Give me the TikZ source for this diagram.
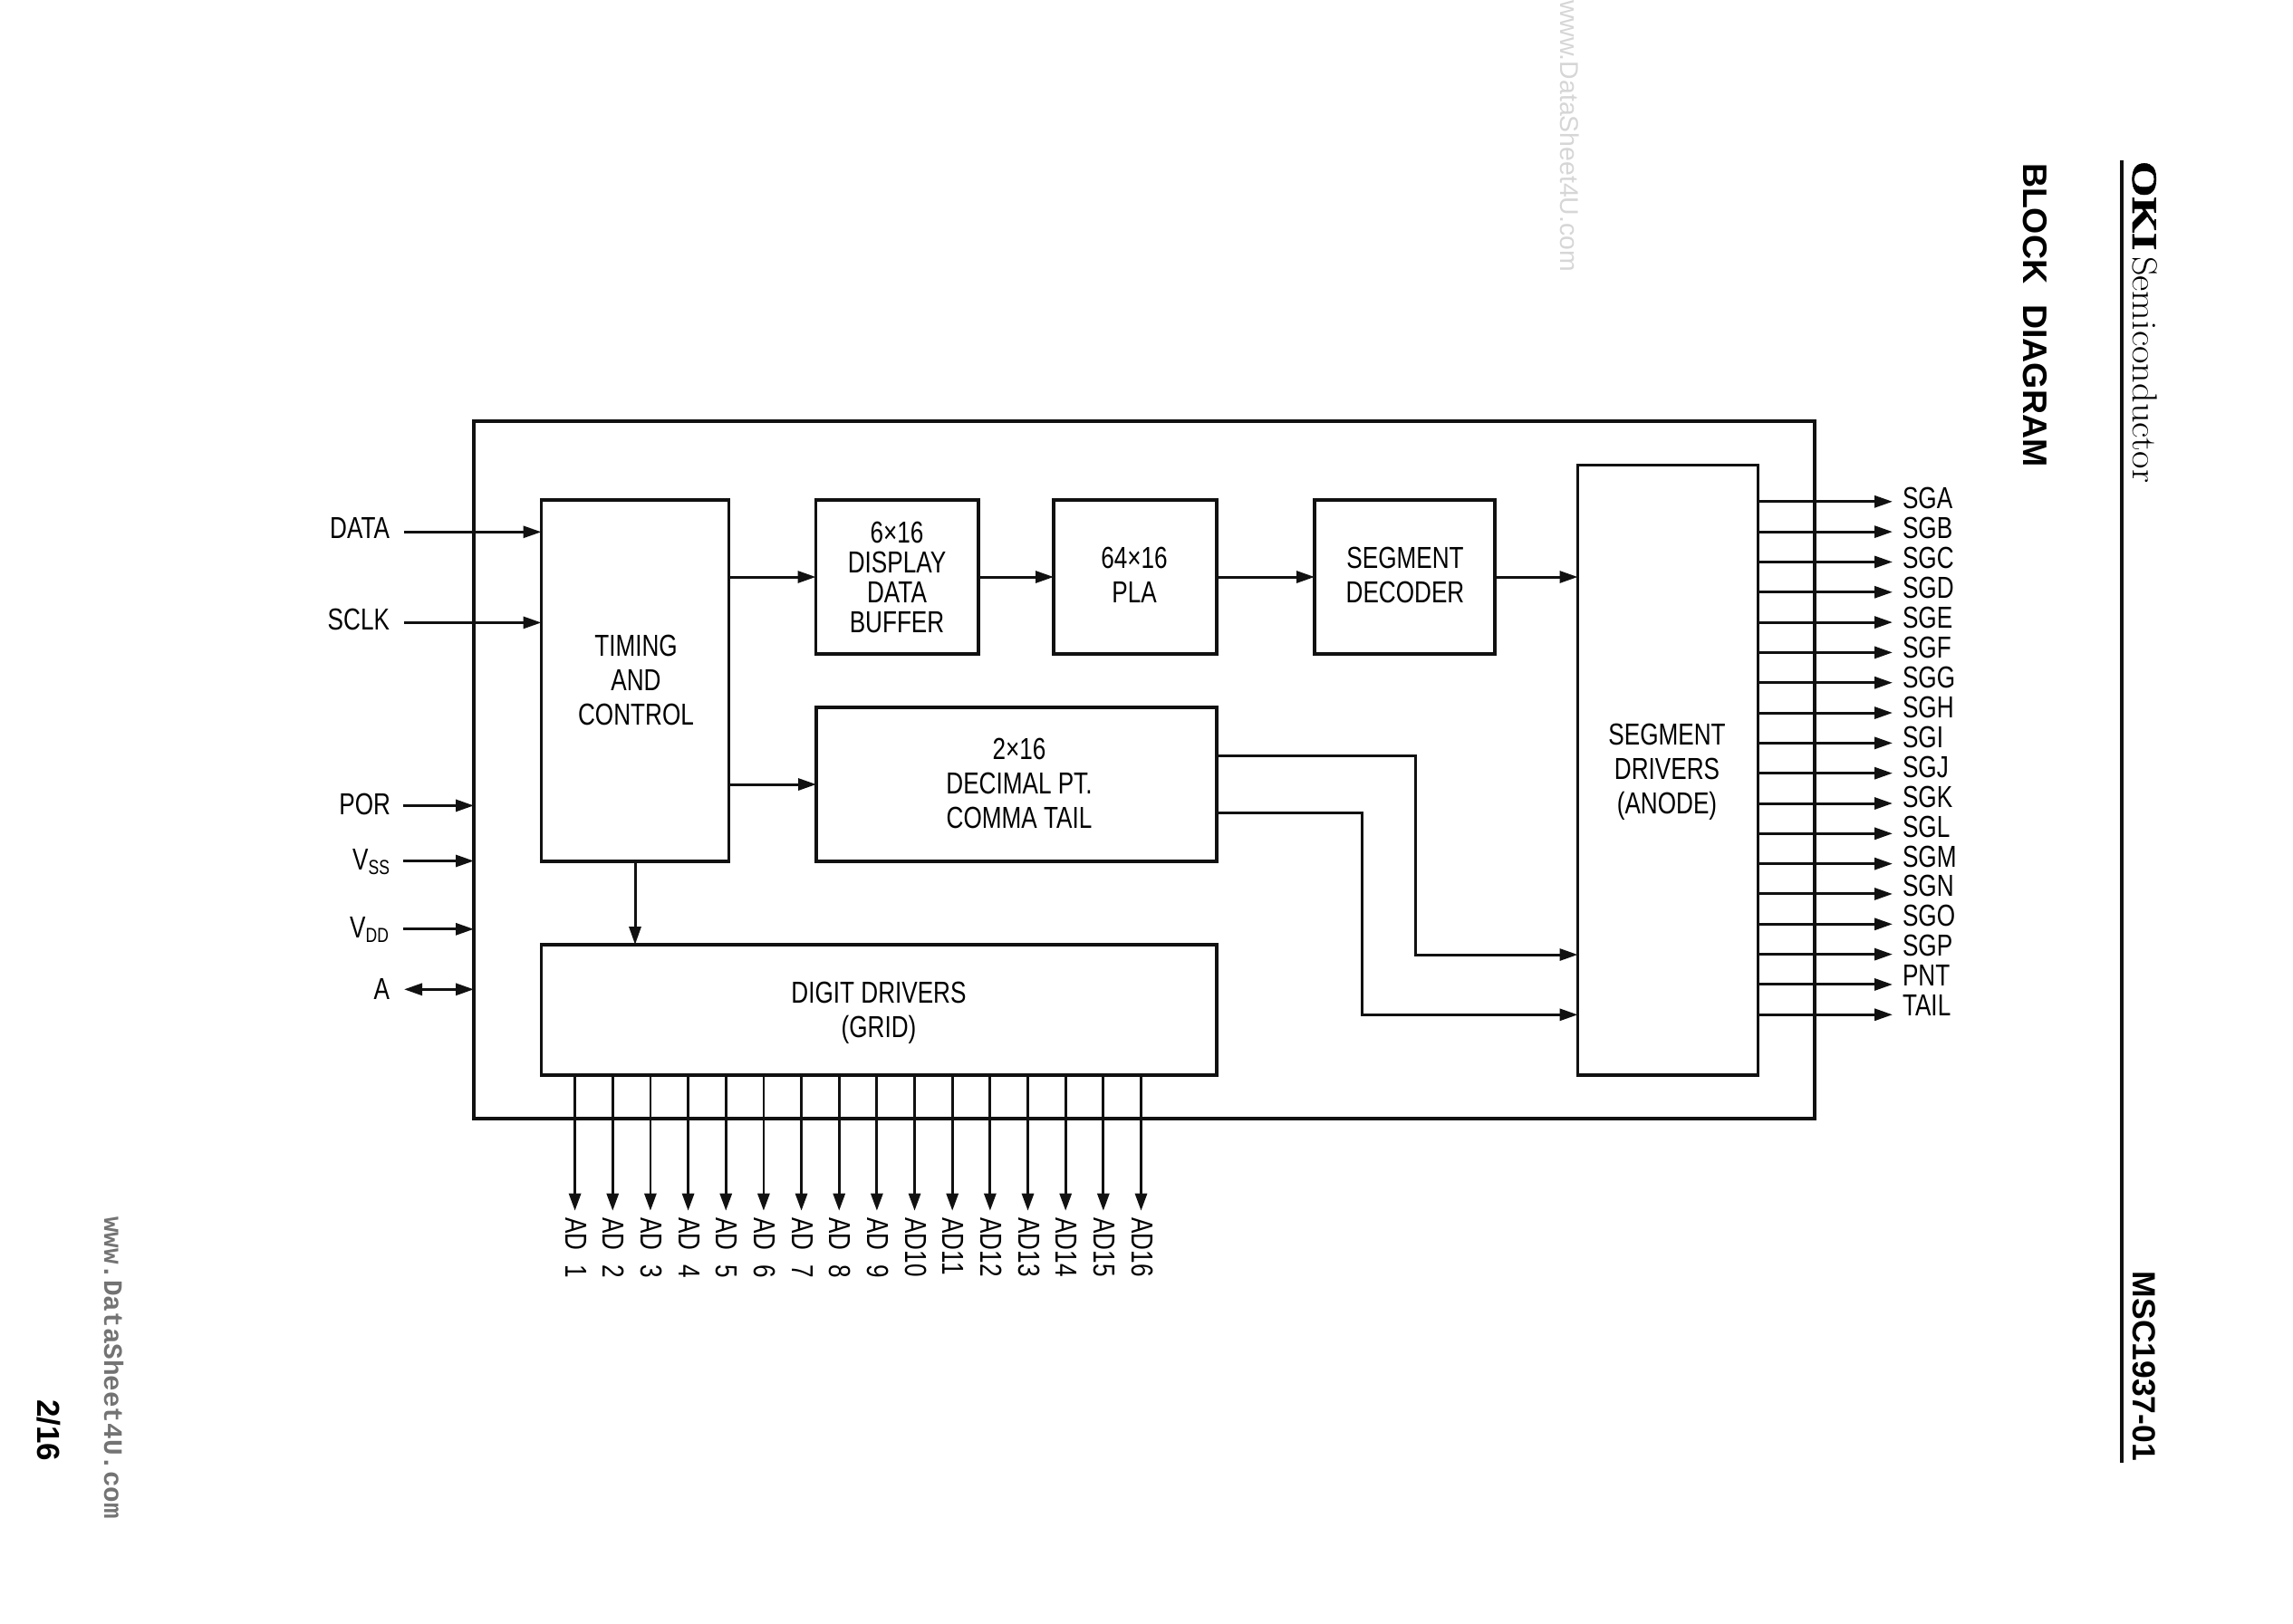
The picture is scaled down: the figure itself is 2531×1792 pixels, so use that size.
\documentclass[tikz,border=0pt]{standalone}
\usepackage{fontspec}
\usetikzlibrary{arrows.meta}
\newfontfamily\labfont[FakeStretch=0.78]{Liberation Sans}
\newfontfamily\headfont{Liberation Sans}
\newfontfamily\oki[FakeStretch=1.3,FakeBold=1.5]{Liberation Serif}
\newfontfamily\wmono{Liberation Mono}
\definecolor{ink}{HTML}{111111}
\tikzset{
  box/.style={draw=ink,line width=3.2pt,inner sep=0pt,outer sep=0pt,rectangle},
  txt/.style={inner sep=0pt,outer sep=0pt,align=center,text=black,font=\labfont\fontsize{33.5}{38}\selectfont},
  pinlab/.style={inner sep=0pt,outer sep=0pt,text=black,font=\labfont\fontsize{33.5}{38}\selectfont},
  adlab/.style={pinlab,rotate=-90,anchor=base west},
  wire/.style={draw=ink,line width=3pt},
  arr/.style={wire,-{Triangle[length=20pt,width=13pt]}},
  arrb/.style={wire,{Triangle[length=20pt,width=13pt]}-{Triangle[length=20pt,width=13pt]}},
  vert/.style={rotate=-90,inner sep=0pt,outer sep=0pt},
}
\newcommand{\subs}[1]{\raisebox{-5.5pt}{\fontsize{22.5}{24}\selectfont #1}}
\newcommand{\wide}[2]{\setlength{\spaceskip}{#1}#2}
\begin{document}
\begin{tikzpicture}[x=1pt,y=-1pt]
\useasboundingbox (0,0) rectangle (2531,1792);
\fill[white] (0,0) rectangle (2531,1792);

% blocks
\node[box,minimum width=1480pt,minimum height=770pt] (chip) at (1263,850) {};
\node[box,minimum width=207pt,minimum height=399pt] (timing) at (701,751.5) {};
\node[box,minimum width=179.5pt,minimum height=170pt] (buffer) at (990.25,637) {};
\node[box,minimum width=180pt,minimum height=170pt] (pla) at (1253,637) {};
\node[box,minimum width=199pt,minimum height=170pt] (decoder) at (1550.5,637) {};
\node[box,minimum width=442pt,minimum height=170pt] (decimal) at (1122,866) {};
\node[box,minimum width=745.5pt,minimum height=144pt] (digit) at (970.25,1115) {};
\node[box,minimum width=199pt,minimum height=673.5pt] (segdrv) at (1841,850.25) {};

% block texts
\node[txt] (ttiming) at (702,750.5) {TIMING\\AND\\CONTROL};
\node[txt,font=\labfont\fontsize{33.5}{33}\selectfont] (tbuffer) at (990,637) {6×16\\DISPLAY\\DATA\\BUFFER};
\node[txt] (tpla) at (1252,634.5) {64×16\\PLA};
\node[txt] (tdecoder) at (1551,634.5) {SEGMENT\\DECODER};
\node[txt] (tdecimal) at (1125,864.5) {2×16\\DECIMAL PT.\\COMMA TAIL};
\node[txt] (tdigit) at (970,1118) {DIGIT DRIVERS\\(GRID)};
\node[txt] (tsegdrv) at (1840,852.5) {SEGMENT\\DRIVERS\\(ANODE)};

% left pins
\node[pinlab,anchor=base east] (ldata) at (430,594) {DATA};
\node[pinlab,anchor=base east] (lsclk) at (430,695) {SCLK};
\node[pinlab,anchor=base east] (lpor) at (431,899) {POR};
\node[pinlab,anchor=base east] (lvss) at (430,960) {V\subs{SS}};
\node[pinlab,anchor=base east] (lvdd) at (429,1035) {V\subs{DD}};
\node[pinlab,anchor=base east] (la) at (430,1103) {A};

\coordinate (dataIn) at (446,587.3);
\coordinate (sclkIn) at (446,687.4);
\coordinate (porIn) at (445,889.4);
\coordinate (vssIn) at (445,950.5);
\coordinate (vddIn) at (445,1025.8);
\coordinate (aIn) at (446,1092.3);

\draw[arr] (dataIn) -- (timing.west |- dataIn);
\draw[arr] (sclkIn) -- (timing.west |- sclkIn);
\draw[arr] (porIn) -- (chip.west |- porIn);
\draw[arr] (vssIn) -- (chip.west |- vssIn);
\draw[arr] (vddIn) -- (chip.west |- vddIn);
\draw[arrb] (aIn) -- (chip.west |- aIn);

% internal connectors
\draw[arr] (timing.east |- buffer.west) -- (buffer.west);
\draw[arr] (buffer.east) -- (pla.west);
\draw[arr] (pla.east) -- (decoder.west);
\draw[arr] (decoder.east) -- (segdrv.west |- decoder.east);
\draw[arr] (timing.east |- decimal.west) -- (decimal.west);
\draw[arr] (timing.south) -- (timing.south |- digit.north);

\coordinate (pt1) at (1562.6,834.6);
\coordinate (pt1b) at (1562.6,1054);
\coordinate (pt2) at (1503,897.5);
\coordinate (pt2b) at (1503,1120.3);
\draw[arr] (decimal.east |- pt1) -- (pt1) -- (pt1b) -- (segdrv.west |- pt1b);
\draw[arr] (decimal.east |- pt2) -- (pt2) -- (pt2b) -- (segdrv.west |- pt2b);

% segment outputs
\foreach \n [count=\i from 0, evaluate=\i as \yy using 553.8+33.32*\i, evaluate=\i as \yl using 561.6+32.95*\i] in {SGA,SGB,SGC,SGD,SGE,SGF,SGG,SGH,SGI,SGJ,SGK,SGL,SGM,SGN,SGO,SGP,PNT,TAIL}{
  \coordinate (sgtip\i) at (2089,\yy);
  \node[pinlab,anchor=base west] (sg\i) at (2100,\yl) {\n};
  \draw[arr] (segdrv.east |- sgtip\i) -- (sgtip\i);
}

% digit outputs
\foreach \n [count=\i from 0, evaluate=\i as \xx using 634.6+41.66*\i] in {AD 1,AD 2,AD 3,AD 4,AD 5,AD 6,AD 7,AD 8,AD 9,AD10,AD11,AD12,AD13,AD14,AD15,AD16}{
  \coordinate (adtip\i) at (\xx,1336.7);
  \node[adlab] (ad\i) at (\xx-10.5,1344.5) {\wide{16pt}{\n}};
  \draw[wire,line width=2.8pt,-{Triangle[length=19pt,width=13pt]}] (digit.south -| adtip\i) -- (adtip\i);
}

% page furniture
\coordinate (ruleTop) at (2342,177);
\coordinate (ruleEnd) at (2342,1615);
\draw[ink,line width=3.3pt] (ruleTop) -- (ruleEnd);
\node[vert,anchor=base west,font=\oki\bfseries\fontsize{39}{40}\selectfont] (okilogo) at (2354,178) {OKI};
\node[vert,anchor=base west,font=\fontsize{38.5}{40}\selectfont] (semi) at (2354,283) {\scalebox{1.1}[1]{Semiconductor}};
\node[vert,anchor=base west,font=\headfont\bfseries\fontsize{37.5}{40}\selectfont] (title) at (2233,180) {\wide{23pt}{BLOCK DIAGRAM}};
\node[vert,anchor=base east,font=\headfont\bfseries\fontsize{35.5}{40}\selectfont] (part) at (2354,1613) {MSC1937-01};
\node[vert,anchor=base west,font=\headfont\bfseries\fontsize{35}{40}\selectfont] (page) at (41,1545) {2/16};
\node[vert,anchor=base west,text=black!55,font=\wmono\bfseries\fontsize{29.3}{40}\selectfont] (wm1) at (115,1343) {www.DataSheet4U.com};
\node[vert,anchor=base west,text=black!16,font=\headfont\fontsize{28.4}{40}\selectfont] (wm2) at (1722,0) {www.DataSheet4U.com};
\end{tikzpicture}
\end{document}
